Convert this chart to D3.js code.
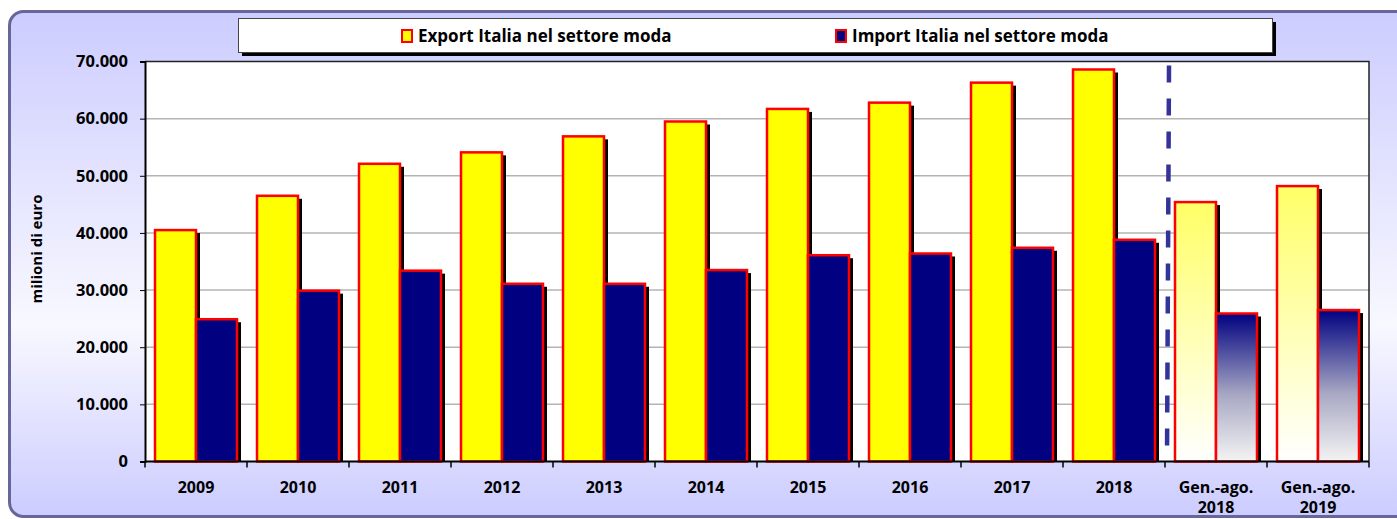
<!DOCTYPE html>
<html>
<head>
<meta charset="utf-8">
<script src="https://cdn.jsdelivr.net/npm/d3@7"></script>
<style>
  html, body { margin: 0; padding: 0; background: #fff; }
  svg { display: block; font-family: "Open Sans", Lato, sans-serif; font-weight: bold; }
</style>
</head>
<body>
<script>
const categories = ['2009', '2010', '2011', '2012', '2013', '2014', '2015', '2016', '2017', '2018',
                    'Gen.-ago. 2018', 'Gen.-ago. 2019'];
const exportValues = [40500, 46500, 52100, 54100, 56900, 59500, 61700, 62800, 66300, 68600, 45400, 48200];
const importValues = [24900, 29900, 33400, 31100, 31100, 33500, 36100, 36400, 37400, 38800, 25900, 26500];
const seriesNames = ['Export Italia nel settore moda', 'Import Italia nel settore moda'];
const partialCategories = ['Gen.-ago. 2018', 'Gen.-ago. 2019'];
const yTicks = [0, 10000, 20000, 30000, 40000, 50000, 60000, 70000];
const yLabel = 'milioni di euro';

const WIDTH = 1397;
const HEIGHT = 519;
const MARGIN = {top: 61.5, right: 28, bottom: 57.5, left: 145};
const INNER_WIDTH = WIDTH - MARGIN.left - MARGIN.right;
const INNER_HEIGHT = HEIGHT - MARGIN.top - MARGIN.bottom;

var translate = function(x, y) {
    return "translate(" + x + "," + y + ")";
};

var itFormat = d3.formatLocale({decimal: ',', thousands: '.', grouping: [3], currency: ['', '']}).format(',');

var x0 = d3.scaleBand()
    .domain(categories)
    .range([0, INNER_WIDTH]);

var x1 = d3.scaleBand()
    .domain(['export', 'import'])
    .range([10, x0.bandwidth() - 10]);

var yScale = d3.scaleLinear()
    .domain([0, 70000])
    .range([INNER_HEIGHT, 0]);

var rows = categories.map(function(c, i) {
    return {cat: c, exp: exportValues[i], imp: importValues[i], partial: partialCategories.indexOf(c) >= 0};
});

var onload = function() {
    var svg = d3.select('body').append('svg')
        .attr('width', WIDTH)
        .attr('height', HEIGHT);

    var defs = svg.append('defs');

    var bg = defs.append('linearGradient').attr('id', 'bgGrad')
        .attr('x1', 0).attr('y1', 0).attr('x2', 0).attr('y2', 1);
    bg.append('stop').attr('offset', '0%').attr('stop-color', '#ccccff');
    bg.append('stop').attr('offset', '62%').attr('stop-color', '#f8f8ff');
    bg.append('stop').attr('offset', '100%').attr('stop-color', '#ccccff');

    var ge = defs.append('linearGradient').attr('id', 'expGrad')
        .attr('x1', 0).attr('y1', 0).attr('x2', 0).attr('y2', 1);
    ge.append('stop').attr('offset', '0%').attr('stop-color', '#ffff66');
    ge.append('stop').attr('offset', '100%').attr('stop-color', '#ffffff');

    var gi = defs.append('linearGradient').attr('id', 'impGrad')
        .attr('x1', 0).attr('y1', 0).attr('x2', 0).attr('y2', 1);
    gi.append('stop').attr('offset', '0%').attr('stop-color', '#000080');
    gi.append('stop').attr('offset', '55%').attr('stop-color', '#a8a8c4');
    gi.append('stop').attr('offset', '100%').attr('stop-color', '#f4f4f4');

    // background panel
    svg.append('rect')
        .attr('x', 9.5).attr('y', 11.5)
        .attr('width', 1400).attr('height', 505)
        .attr('rx', 14)
        .attr('fill', 'url(#bgGrad)')
        .attr('stroke', '#666699')
        .attr('stroke-width', 3);

    // legend
    var leg = svg.append('g');
    leg.append('rect').attr('x', 242).attr('y', 22).attr('width', 1034).attr('height', 34).attr('fill', '#000');
    leg.append('rect').attr('x', 238.5).attr('y', 18.5).attr('width', 1034).attr('height', 34)
        .attr('fill', '#fff').attr('stroke', '#444').attr('stroke-width', 1);
    var legX = [402, 836];
    var legFill = ['#ffff00', '#000080'];
    seriesNames.forEach(function(name, i) {
        leg.append('rect').attr('x', legX[i]).attr('y', 30).attr('width', 10).attr('height', 12)
            .attr('fill', legFill[i]).attr('stroke', '#ff0000').attr('stroke-width', 2);
        leg.append('text').attr('x', legX[i] + 16).attr('y', 42)
            .attr('font-size', 17).attr('fill', '#000').text(name);
    });

    var g = svg.append('g')
        .attr('transform', translate(MARGIN.left, MARGIN.top));

    g.append('rect')
        .attr('width', INNER_WIDTH).attr('height', INNER_HEIGHT)
        .attr('fill', '#fff');

    g.selectAll('.grid').data(yTicks.slice(1, -1))
        .enter().append('line')
        .attr('class', 'grid')
        .attr('x1', 0).attr('x2', INNER_WIDTH)
        .attr('y1', function(d) { return yScale(d); })
        .attr('y2', function(d) { return yScale(d); })
        .attr('stroke', '#b4b4b4').attr('stroke-width', 1.5);

    g.append('path')
        .attr('d', 'M0,0H' + INNER_WIDTH + 'V' + INNER_HEIGHT)
        .attr('fill', 'none').attr('stroke', '#222').attr('stroke-width', 1.5);

    // dashed separator before the partial-year groups
    var sepX = x0(partialCategories[0]) + 2;
    g.append('line')
        .attr('x1', sepX + 2).attr('x2', sepX)
        .attr('y1', yScale(70000) + 4).attr('y2', INNER_HEIGHT)
        .attr('stroke', '#333399').attr('stroke-width', 4.5)
        .attr('stroke-dasharray', '17,16');

    var groups = g.selectAll('.group').data(rows)
        .enter().append('g')
        .attr('class', 'group')
        .attr('transform', function(d) { return translate(x0(d.cat), 0); });

    var bars = function(key, valueOf, solid, grad) {
        groups.append('rect')
            .attr('x', x1(key) + 4)
            .attr('y', function(d) { return yScale(valueOf(d)) + 3; })
            .attr('width', x1.bandwidth())
            .attr('height', function(d) { return INNER_HEIGHT - yScale(valueOf(d)) - 3; })
            .attr('fill', '#000');
        groups.append('rect')
            .attr('x', x1(key))
            .attr('y', function(d) { return yScale(valueOf(d)); })
            .attr('width', x1.bandwidth())
            .attr('height', function(d) { return INNER_HEIGHT - yScale(valueOf(d)); })
            .attr('fill', function(d) { return d.partial ? grad : solid; })
            .attr('stroke', '#ff0000')
            .attr('stroke-width', 2.5);
    };
    bars('export', function(d) { return d.exp; }, '#ffff00', 'url(#expGrad)');
    bars('import', function(d) { return d.imp; }, '#000080', 'url(#impGrad)');

    // y axis
    var yAxis = d3.axisLeft(yScale).tickValues(yTicks).tickSize(5).tickPadding(12).tickFormat(itFormat);
    var ya = g.append('g').call(yAxis);
    ya.select('.domain').attr('stroke', '#000').attr('stroke-width', 2);
    ya.selectAll('.tick line').attr('stroke', '#000');
    ya.selectAll('text').attr('font-size', 16.5).attr('fill', '#000')
        .attr('font-family', '"Open Sans", sans-serif').attr('font-weight', 'bold');

    // x axis
    var xa = g.append('g').attr('transform', translate(0, INNER_HEIGHT));
    xa.append('line').attr('x1', 0).attr('x2', INNER_WIDTH)
        .attr('stroke', '#000').attr('stroke-width', 2);
    xa.selectAll('.xtick').data(categories.concat(['end']))
        .enter().append('line')
        .attr('class', 'xtick')
        .attr('x1', function(d, i) { return i * x0.step(); })
        .attr('x2', function(d, i) { return i * x0.step(); })
        .attr('y1', 0).attr('y2', 6)
        .attr('stroke', '#000').attr('stroke-width', 1.5);
    var labels = xa.selectAll('.xlab').data(categories)
        .enter().append('text')
        .attr('class', 'xlab')
        .attr('text-anchor', 'middle')
        .attr('font-size', 16)
        .attr('fill', '#000')
        .attr('transform', function(d) { return translate(x0(d) + x0.bandwidth() / 2, 31); });
    labels.each(function(d) {
        var parts = d.split(' ');
        var t = d3.select(this);
        parts.forEach(function(p, j) {
            t.append('tspan').attr('x', 0).attr('y', j * 20).text(p);
        });
    });

    svg.append('text')
        .attr('transform', translate(42, 249) + ' rotate(-90)')
        .attr('text-anchor', 'middle')
        .attr('font-size', 15)
        .attr('fill', '#000')
        .text(yLabel);
};

window.onload = onload;
</script>
</body>
</html>
